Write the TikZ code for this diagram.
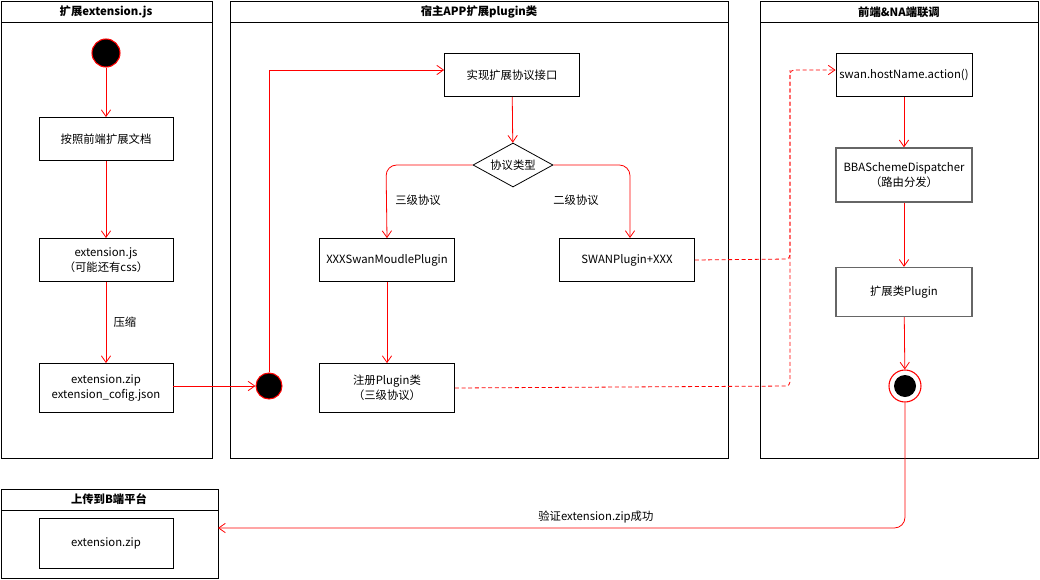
\documentclass[tikz,border=0pt]{standalone}
\usepackage{fontspec}
\setmainfont{Noto Sans CJK SC}
\usetikzlibrary{arrows.meta,shapes.geometric}
\begin{document}
\begin{tikzpicture}[x=0.75pt,y=-0.75pt,font=\fontsize{8.5}{11}\selectfont,
  lane/.style={draw=black,line width=0.6pt},
  box/.style={draw=black,line width=0.6pt,align=center,inner sep=0pt},
  gbox/.style={draw=black!60,line width=1pt,align=center,inner sep=0pt},
  hdr/.style={font=\fontsize{8.5}{11}\selectfont\bfseries},
  con/.style={draw=red,color=red,line width=0.6pt,-{Straight Barb[length=5pt,width=7pt]}},
  dcon/.style={con,dash pattern=on 3pt off 2pt}]
\useasboundingbox (0,0) rectangle (1040,579);
% lanes
\draw[lane] (1,1) rectangle (212,458); \draw[lane] (1,22)--(212,22);
\node[hdr] at (106,12) {扩展extension.js};
\draw[lane] (230,1) rectangle (728,458); \draw[lane] (230,22)--(728,22);
\node[hdr] at (479,12) {宿主APP扩展plugin类};
\draw[lane] (760,1) rectangle (1038,458); \draw[lane] (760,22)--(1038,22);
\node[hdr] at (899,12) {前端\&NA端联调};
\draw[lane] (1,489) rectangle (218,578); \draw[lane] (1,510)--(218,510);
\node[hdr] at (109,499) {上传到B端平台};
% nodes
\node[circle,fill=black,draw=red,line width=0.8pt,minimum size=28pt*0.75] (st) at (106,53) {};
\node[box,minimum width=134*0.75pt,minimum height=43*0.75pt] (b1) at (106,139) {按照前端扩展文档};
\node[box,minimum width=134*0.75pt,minimum height=43*0.75pt] (b2) at (106,260) {extension.js\\（可能还有css）};
\node[box,minimum width=134*0.75pt,minimum height=49*0.75pt] (b3) at (106,388) {extension.zip\\extension\_cofig.json};
\node[box,minimum width=134*0.75pt,minimum height=50*0.75pt] (b4) at (106,543) {extension.zip};
\node[circle,fill=black,draw=red,line width=0.8pt,minimum size=26pt*0.75] (c2) at (269,386) {};
\node[box,minimum width=135*0.75pt,minimum height=43*0.75pt] (impl) at (512,75) {实现扩展协议接口};
\node[diamond,draw=black,line width=0.6pt,minimum width=80*0.75pt,minimum height=44*0.75pt,inner sep=0pt,aspect=1.8] (dia) at (513,165) {协议类型};
\node[box,minimum width=135*0.75pt,minimum height=43*0.75pt] (xxx) at (387,260) {XXXSwanMoudlePlugin};
\node[box,minimum width=135*0.75pt,minimum height=43*0.75pt] (swp) at (627,260) {SWANPlugin+XXX};
\node[box,minimum width=135*0.75pt,minimum height=49*0.75pt] (reg) at (387,388) {注册Plugin类\\（三级协议）};
\node[box,minimum width=136*0.75pt,minimum height=43*0.75pt] (swan) at (904,75) {swan.hostName.action()};
\node[gbox,minimum width=136*0.75pt,minimum height=54*0.75pt] (bba) at (904,175) {BBASchemeDispatcher\\（路由分发）};
\node[gbox,minimum width=136*0.75pt,minimum height=49*0.75pt] (ext) at (904,292) {扩展类Plugin};
\node[circle,draw=red,line width=0.8pt,minimum size=32pt*0.75] (end) at (905,386) {};
\node[circle,fill=black,minimum size=22pt*0.75] at (905,386) {};
\coordinate (bl) at (218,528);
% connectors
\draw[con] (st)--(b1);
\draw[con] (b1)--(b2);
\draw[con] (b2)--node[right,text=black,xshift=2pt]{压缩}(b3);
\draw[con] (b3.east|-c2)--(c2);
\draw[con] (c2)--(269,70)--(impl.west|-0,70);
\draw[con] (impl)--(dia);
\draw[con,rounded corners=8pt] (dia.west)--(386,165)--(xxx.north);
\draw[con,rounded corners=8pt] (dia.east)--(630,165)--(630,238);
\node at (418,200) {三级协议};
\node at (576,200) {二级协议};
\draw[con] (xxx)--(reg);
\draw[dcon,-,rounded corners=3pt] (swp.east)--(790,259)--(790,70);
\draw[dcon,rounded corners=3pt] (reg.east)--(790,386)--(790,70)--(swan.west|-0,70);
\draw[con] (swan)--(bba);
\draw[con] (bba)--(ext);
\draw[con] (ext)--(end);
\draw[con,rounded corners=8pt] (end)--(905,528)--node[above,text=black,pos=0.45]{验证extension.zip成功}(bl);
\end{tikzpicture}
\end{document}
